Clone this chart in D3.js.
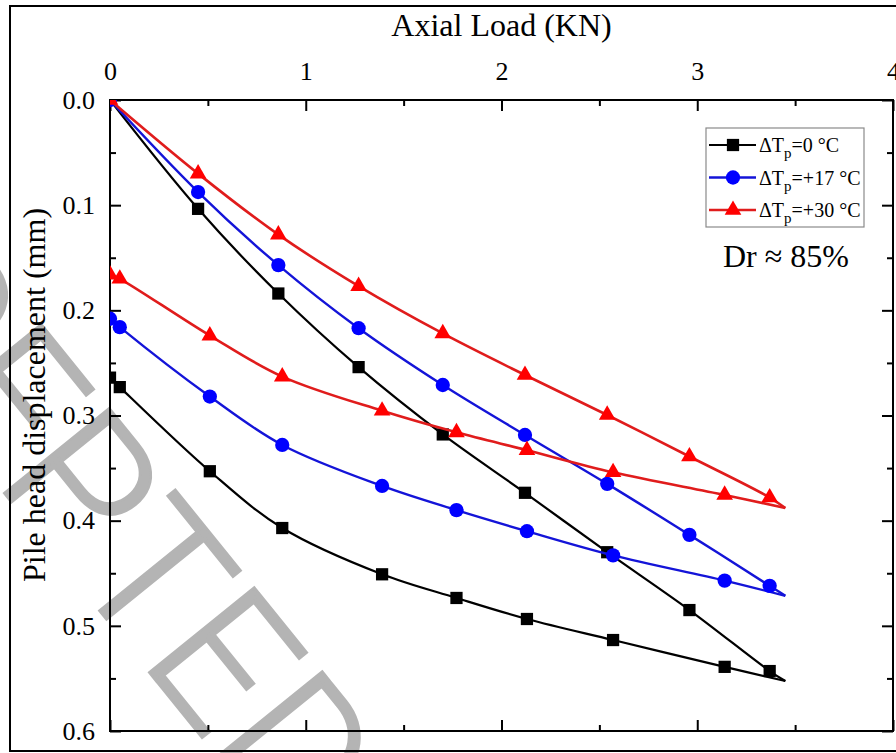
<!DOCTYPE html>
<html>
<head>
<meta charset="utf-8">
<script src="https://cdn.jsdelivr.net/npm/d3@7"></script>
<style>
  body { margin: 0; background: #fff; }
  svg { display: block; }
</style>
</head>
<body>
<svg id="chart" width="896" height="753"></svg>
<script>
// Axial load steps (kN): loading readings, turning point, unloading readings
const loadSteps   = [0, 0.45, 0.86, 1.27, 1.70, 2.12, 2.54, 2.96, 3.37];
const peakLoad    = 3.45;
const unloadSteps = [3.14, 2.57, 2.13, 1.77, 1.39, 0.88, 0.51, 0.05, 0];

// Pile head displacement (mm) for ΔTp = 0 °C
const disp0Load   = [0, 0.1035, 0.184, 0.254, 0.318, 0.3735, 0.430, 0.485, 0.543];
const disp0Peak   = 0.5525;
const disp0Unload = [0.539, 0.5135, 0.4935, 0.4735, 0.451, 0.407, 0.353, 0.273, 0.264];

// ΔTp = +17 °C
const disp17Load   = [0, 0.0875, 0.157, 0.217, 0.271, 0.3185, 0.365, 0.4135, 0.462];
const disp17Peak   = 0.4715;
const disp17Unload = [0.457, 0.433, 0.410, 0.390, 0.367, 0.328, 0.282, 0.216, 0.208];

// ΔTp = +30 °C
const disp30Load   = [0, 0.070, 0.128, 0.177, 0.222, 0.2615, 0.2995, 0.339, 0.378];
const disp30Peak   = 0.388;
const disp30Unload = [0.3755, 0.354, 0.333, 0.316, 0.2955, 0.263, 0.224, 0.170, 0.166];

const seriesLabels = ["=0 °C", "=+17 °C", "=+30 °C"];
const xTickValues = [0, 1, 2, 3, 4];
const yTickValues = [0, 0.1, 0.2, 0.3, 0.4, 0.5, 0.6];
const xTitle = "Axial Load (KN)";
const yTitle = "Pile head displacement (mm)";
const noteText = "Dr ≈ 85%";

const series = [
  { name: seriesLabels[0], load: disp0Load,  peak: disp0Peak,  unload: disp0Unload,
    color: "#000000", line: "#000000", width: 2.2, shape: d3.symbolSquare,   size: 150 },
  { name: seriesLabels[1], load: disp17Load, peak: disp17Peak, unload: disp17Unload,
    color: "#0000ff", line: "#1414d8", width: 2.4, shape: d3.symbolCircle,   size: 160 },
  { name: seriesLabels[2], load: disp30Load, peak: disp30Peak, unload: disp30Unload,
    color: "#ff0000", line: "#e01c1c", width: 2.6, shape: d3.symbolTriangle, size: 120 }
];

const serif = "'Liberation Serif', 'Times New Roman', Times, serif";
const svg = d3.select("#chart");

const margin = { left: 110, top: 100, right: 893, bottom: 731 };
const x = d3.scaleLinear().domain([0, 4]).range([margin.left, margin.right]);
const y = d3.scaleLinear().domain([0, 0.6]).range([margin.top, margin.bottom]);

svg.append("rect").attr("width", 896).attr("height", 753).attr("fill", "#fff");

// Diagonal manuscript stamp, kept behind the chart
const stamp = svg.append("text")
  .attr("font-family", "Roboto, 'Liberation Sans', sans-serif")
  .attr("font-weight", 300)
  .attr("font-size", 190)
  .attr("fill", "#b4b4b4")
  .attr("stroke", "#b4b4b4")
  .attr("stroke-width", 2.5)
  .text("ACCEPTED MANUSCRIPT");
const eStart = stamp.node().getStartPositionOfChar(6).x;
stamp.attr("transform", `translate(153,677) rotate(51) translate(${-eStart - 23},0)`);

// Outer frame
svg.append("rect")
  .attr("x", 10).attr("y", 6).attr("width", 900).attr("height", 745)
  .attr("fill", "none").attr("stroke", "#000").attr("stroke-width", 2);

// Axes: labelled top and left, mirrored ticks on bottom and right, all pointing inward
const fmtY = d3.format(".1f");
const minorX = d3.range(0.5, 4, 1);
const minorY = d3.range(0.05, 0.6, 0.1);

function styleAxis(g) {
  g.select(".domain").remove();
  g.selectAll(".tick line").attr("stroke", "#000").attr("stroke-width", 2);
  g.selectAll("text").attr("font-family", serif).attr("font-size", 26).attr("fill", "#000");
}

svg.append("g").attr("transform", `translate(0,${margin.top})`)
  .call(d3.axisTop(x).tickValues(xTickValues).tickFormat(d3.format("d"))
        .tickSizeInner(-11).tickSizeOuter(0).tickPadding(20))
  .call(styleAxis);
svg.append("g").attr("transform", `translate(0,${margin.top})`)
  .call(d3.axisTop(x).tickValues(minorX).tickFormat("").tickSizeInner(-6).tickSizeOuter(0))
  .call(styleAxis);
svg.append("g").attr("transform", `translate(0,${margin.bottom})`)
  .call(d3.axisBottom(x).tickValues(xTickValues).tickFormat("").tickSizeInner(-11).tickSizeOuter(0))
  .call(styleAxis);
svg.append("g").attr("transform", `translate(0,${margin.bottom})`)
  .call(d3.axisBottom(x).tickValues(minorX).tickFormat("").tickSizeInner(-6).tickSizeOuter(0))
  .call(styleAxis);

svg.append("g").attr("transform", `translate(${margin.left},0)`)
  .call(d3.axisLeft(y).tickValues(yTickValues).tickFormat(fmtY)
        .tickSizeInner(-11).tickSizeOuter(0).tickPadding(15))
  .call(styleAxis);
svg.append("g").attr("transform", `translate(${margin.left},0)`)
  .call(d3.axisLeft(y).tickValues(minorY).tickFormat("").tickSizeInner(-6).tickSizeOuter(0))
  .call(styleAxis);
svg.append("g").attr("transform", `translate(${margin.right},0)`)
  .call(d3.axisRight(y).tickValues(yTickValues).tickFormat("").tickSizeInner(-11).tickSizeOuter(0))
  .call(styleAxis);
svg.append("g").attr("transform", `translate(${margin.right},0)`)
  .call(d3.axisRight(y).tickValues(minorY).tickFormat("").tickSizeInner(-6).tickSizeOuter(0))
  .call(styleAxis);

// Plot frame
svg.append("rect")
  .attr("x", margin.left).attr("y", margin.top)
  .attr("width", margin.right - margin.left).attr("height", margin.bottom - margin.top)
  .attr("fill", "none").attr("stroke", "#000").attr("stroke-width", 2);

// Axis titles
svg.append("text")
  .attr("x", (margin.left + margin.right) / 2).attr("y", 36)
  .attr("text-anchor", "middle")
  .attr("font-family", serif).attr("font-size", 32)
  .text(xTitle);
svg.append("text")
  .attr("transform", "translate(45,395) rotate(-90)")
  .attr("text-anchor", "middle")
  .attr("font-family", serif).attr("font-size", 32)
  .text(yTitle);

// Curves: loading branch up to the turning point, then unloading back to zero
svg.append("clipPath").attr("id", "plot-clip")
  .append("rect")
  .attr("x", margin.left).attr("y", margin.top)
  .attr("width", margin.right - margin.left).attr("height", margin.bottom - margin.top);

const line = d3.line()
  .x(d => x(d[0])).y(d => y(d[1]))
  .curve(d3.curveCatmullRom.alpha(0.5));

const plot = svg.append("g").attr("clip-path", "url(#plot-clip)");

series.forEach(s => {
  const loading = loadSteps.map((l, i) => [l, s.load[i]]).concat([[peakLoad, s.peak]]);
  const unloading = [[peakLoad, s.peak]].concat(unloadSteps.map((l, i) => [l, s.unload[i]]));
  const g = plot.append("g");
  [loading, unloading].forEach(branch => {
    g.append("path").datum(branch)
      .attr("d", line)
      .attr("fill", "none")
      .attr("stroke", s.line)
      .attr("stroke-width", s.width)
      .attr("stroke-linejoin", "round");
  });
  const pts = loadSteps.map((l, i) => [l, s.load[i]])
    .concat(unloadSteps.map((l, i) => [l, s.unload[i]]));
  g.selectAll("path.marker").data(pts).join("path")
    .attr("class", "marker")
    .attr("transform", d => `translate(${x(d[0])},${y(d[1])})`)
    .attr("d", d3.symbol().type(s.shape).size(s.size))
    .attr("fill", s.color);
});

// Legend
const legend = svg.append("g");
legend.append("rect")
  .attr("x", 706).attr("y", 128).attr("width", 158).attr("height", 99)
  .attr("fill", "#fff").attr("stroke", "#8a8a8a").attr("stroke-width", 1.2);
series.forEach((s, i) => {
  const cy = 145 + i * 32.5;
  legend.append("line")
    .attr("x1", 709).attr("x2", 756).attr("y1", cy).attr("y2", cy)
    .attr("stroke", s.line).attr("stroke-width", s.width);
  legend.append("path")
    .attr("transform", `translate(733,${cy})`)
    .attr("d", d3.symbol().type(s.shape).size(s.size))
    .attr("fill", s.color);
  const t = legend.append("text")
    .attr("x", 759).attr("y", cy + 7)
    .attr("font-family", serif).attr("font-size", 20);
  t.append("tspan").text("ΔT");
  t.append("tspan").attr("dy", 6).attr("font-size", 15).text("p");
  t.append("tspan").attr("dy", -6).text(s.name);
});

// Relative density note
svg.append("text")
  .attr("x", 786).attr("y", 267)
  .attr("text-anchor", "middle")
  .attr("font-family", serif).attr("font-size", 32)
  .text(noteText);
</script>
</body>
</html>
